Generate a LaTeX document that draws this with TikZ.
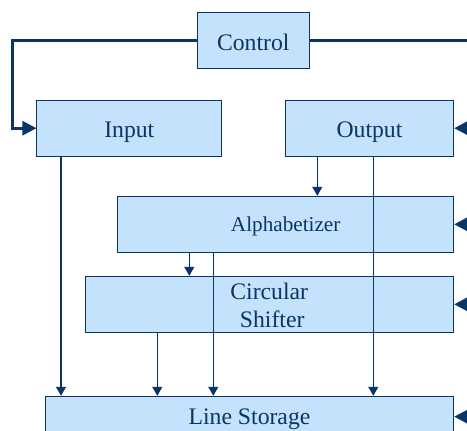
\documentclass[tikz,border=0pt]{standalone}
\usepackage{fontspec}
\setmainfont{Liberation Serif}
\usetikzlibrary{arrows.meta}
\definecolor{boxfill}{HTML}{C5E2FC}
\definecolor{dk}{HTML}{0A3566}
\begin{document}
\begin{tikzpicture}[x=1pt,y=-1pt,
  box/.style={draw=dk, fill=boxfill, line width=1pt, inner sep=0pt},
  lbl/.style={anchor=base, inner sep=0pt, text=dk, font=\fontsize{23.7}{28}\selectfont},
  conn/.style={draw=dk, line width=1.3pt, -{Triangle[length=9pt,width=10pt]}},
  ctl/.style={draw=dk, line width=2.7pt, -{Triangle[length=14pt,width=14pt]}},
  ctlline/.style={draw=dk, line width=2.7pt}]
\useasboundingbox (0,0) rectangle (467,431);
\clip (0,0) rectangle (467,431);
% boxes
\node[box, minimum width=112.4pt, minimum height=56pt] (ctrl) at (253.5,40.5) {};
\node[box, minimum width=184.7pt, minimum height=56.3pt] (input) at (129.3,128.2) {};
\node[box, minimum width=168.4pt, minimum height=56.3pt] (output) at (369.5,128.2) {};
\node[box, minimum width=336.4pt, minimum height=56pt] (alph) at (285.5,224.3) {};
\node[box, minimum width=368.4pt, minimum height=56pt] (circ) at (269.5,304.3) {};
\node[box, minimum width=408.4pt, minimum height=56pt] (ls) at (249.5,424.3) {};
% labels
\node[lbl] (tctrl) at (253.3,50) {Control};
\node[lbl] (tinput) at (129.3,137.3) {Input};
\node[lbl] (toutput) at (369.5,137.3) {Output};
\node[lbl, font=\fontsize{21.2}{25}\selectfont] (talph) at (285.7,231.7) {Alphabetizer};
\node[lbl] (tcirc1) at (269.2,299) {Circular};
\node[lbl] (tcirc2) at (272.2,327.7) {Shifter};
\node[lbl] (tls) at (249.5,424) {Line Storage};
% helper coordinates
\coordinate (x1) at (61,0);
\coordinate (x2) at (317.3,0);
\coordinate (x3) at (373.3,0);
\coordinate (x4) at (189.3,0);
\coordinate (x5) at (213.3,0);
\coordinate (x6) at (157.3,0);
\coordinate (lx) at (12.7,0);
\coordinate (rx) at (474,0);
\coordinate (lsy) at (0,416.7);
% data connectors
\draw[conn] (input.south -| x1) -- (ls.north -| x1);
\draw[conn] (output.south -| x2) -- (alph.north -| x2);
\draw[conn] (output.south -| x3) -- (ls.north -| x3);
\draw[conn] (alph.south -| x4) -- (circ.north -| x4);
\draw[conn] (alph.south -| x5) -- (ls.north -| x5);
\draw[conn] (circ.south -| x6) -- (ls.north -| x6);
% control connectors
\draw[ctl] (ctrl.west) -| (lx |- input.west) -- (input.west);
\draw[ctlline] (ctrl.east) -- (ctrl.east -| rx) -- (rx |- 0,440);
\draw[ctl] (rx |- output.east) -- (output.east);
\draw[ctl] (rx |- alph.east) -- (alph.east);
\draw[ctl] (rx |- circ.east) -- (circ.east);
\draw[ctl] (rx |- lsy) -- (ls.east |- lsy);
\end{tikzpicture}
\end{document}
